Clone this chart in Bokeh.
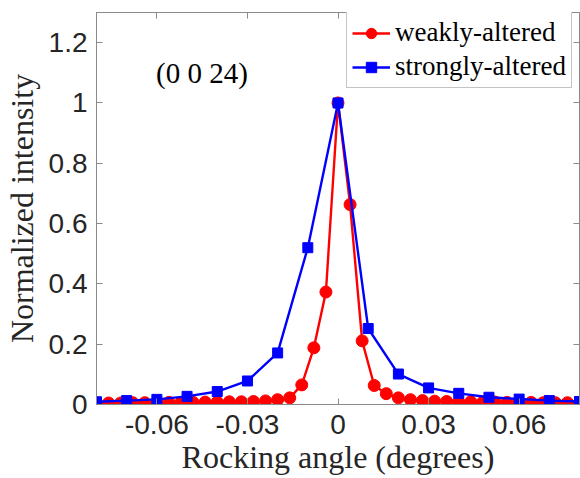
from bokeh.plotting import figure
from bokeh.models import Legend, LegendItem, Label, LinearAxis, FixedTicker, Range1d
from bokeh.embed import file_html
from bokeh.resources import INLINE

# ---- data ----
weak_x = [-0.080, -0.076, -0.072, -0.068, -0.064, -0.060, -0.056, -0.052, -0.048, -0.044,
          -0.040, -0.036, -0.032, -0.028, -0.024, -0.020, -0.016, -0.012, -0.008, -0.004,
          0.000, 0.004, 0.008, 0.012, 0.016, 0.020, 0.024, 0.028, 0.032, 0.036,
          0.040, 0.044, 0.048, 0.052, 0.056, 0.060, 0.064, 0.068, 0.072, 0.076, 0.080]
weak_y = [0.005, 0.005, 0.005, 0.006, 0.006, 0.006, 0.007, 0.007, 0.007, 0.008,
          0.008, 0.009, 0.009, 0.010, 0.012, 0.016, 0.022, 0.065, 0.188, 0.373,
          1.000, 0.663, 0.211, 0.063, 0.036, 0.022, 0.016, 0.013, 0.011, 0.010,
          0.009, 0.009, 0.008, 0.008, 0.007, 0.007, 0.007, 0.006, 0.006, 0.006, 0.005]
strong_x = [-0.08, -0.07, -0.06, -0.05, -0.04, -0.03, -0.02, -0.01, 0.00,
            0.01, 0.02, 0.03, 0.04, 0.05, 0.06, 0.07, 0.08]
strong_y = [0.009, 0.013, 0.017, 0.027, 0.043, 0.078, 0.171, 0.520, 1.000,
            0.252, 0.101, 0.055, 0.037, 0.024, 0.018, 0.013, 0.010]
x_ticks = [-0.06, -0.03, 0, 0.03, 0.06]
x_tick_labels = {-0.06: "-0.06", -0.03: "-0.03", 0: "0", 0.03: "0.03", 0.06: "0.06"}
y_ticks = [0, 0.2, 0.4, 0.6, 0.8, 1.0, 1.2]
y_tick_labels = {0: "0", 0.2: "0.2", 0.4: "0.4", 0.6: "0.6", 0.8: "0.8", 1.0: "1", 1.2: "1.2"}
labels = ["weakly-altered", "strongly-altered"]
annotation = "(0 0 24)"
x_title = "Rocking angle (degrees)"
y_title = "Normalized intensity"

AX = "#8a8a8a"
SERIF = "Liberation Serif"
SANS = "Liberation Sans"

p = figure(width=580, height=478, output_backend="svg", toolbar_location=None,
           x_range=Range1d(-0.08, 0.08), y_range=Range1d(0, 1.3),
           min_border_left=96, min_border_right=1, min_border_top=12, min_border_bottom=74)
p.grid.visible = False
p.outline_line_color = AX
p.background_fill_color = "white"

for ax in (p.xaxis[0], p.yaxis[0]):
    ax.axis_line_color = AX
    ax.major_tick_line_color = AX
    ax.minor_tick_line_color = None
    ax.major_tick_in = 6
    ax.major_tick_out = 0
    ax.major_label_text_font = SANS
    ax.major_label_text_font_size = "28px"
    ax.major_label_text_color = "#262626"
    ax.axis_label_text_font = SERIF
    ax.axis_label_text_font_size = "32px"
    ax.axis_label_text_font_style = "normal"
    ax.axis_label_text_color = "#262626"

p.xaxis[0].ticker = FixedTicker(ticks=x_ticks)
p.xaxis[0].major_label_overrides = x_tick_labels
p.xaxis[0].major_label_standoff = 10
p.xaxis[0].axis_label = x_title
p.xaxis[0].axis_label_standoff = 2

p.yaxis[0].ticker = FixedTicker(ticks=y_ticks)
p.yaxis[0].major_label_overrides = y_tick_labels
p.yaxis[0].major_label_standoff = 9
p.yaxis[0].axis_label = y_title
p.yaxis[0].axis_label_standoff = 6

# mirrored axes (box with inward ticks), no labels
top = LinearAxis(ticker=FixedTicker(ticks=x_ticks), major_label_overrides={t: "" for t in x_ticks},
                 major_label_standoff=0, axis_line_color=AX, major_tick_line_color=AX,
                 major_tick_in=6, major_tick_out=0, minor_tick_line_color=None)
right = LinearAxis(ticker=FixedTicker(ticks=y_ticks), major_label_overrides={t: "" for t in y_ticks},
                   major_label_standoff=0, axis_line_color=AX, major_tick_line_color=AX,
                   major_tick_in=6, major_tick_out=0, minor_tick_line_color=None)
p.add_layout(top, "above")
p.add_layout(right, "right")

r1l = p.line(weak_x, weak_y, line_color="#ff0000", line_width=2.4)
r1m = p.scatter(weak_x, weak_y, marker="circle", size=12, fill_color="#ff0000", line_color="#ff0000")
r2l = p.line(strong_x, strong_y, line_color="#0000ff", line_width=2.4)
r2m = p.scatter(strong_x, strong_y, marker="square", size=10, fill_color="#0000ff", line_color="#0000ff")

legend = Legend(items=[LegendItem(label=labels[0], renderers=[r1l, r1m]),
                       LegendItem(label=labels[1], renderers=[r2l, r2m])],
                location=(250, 316), margin=0, padding=5, spacing=3,
                glyph_width=38, glyph_height=26, label_height=26, label_width=171, label_standoff=5,
                label_text_font=SERIF, label_text_font_size="27px", label_text_color="black",
                border_line_color=AX, border_line_width=1, background_fill_alpha=1)
p.add_layout(legend, "center")

p.add_layout(Label(x=-0.0603, y=1.10, text=annotation, text_font=SERIF,
                   text_font_size="29px", text_baseline="middle", text_align="left",
                   text_color="black"))

open("out.html", "w").write(file_html(p, INLINE))
